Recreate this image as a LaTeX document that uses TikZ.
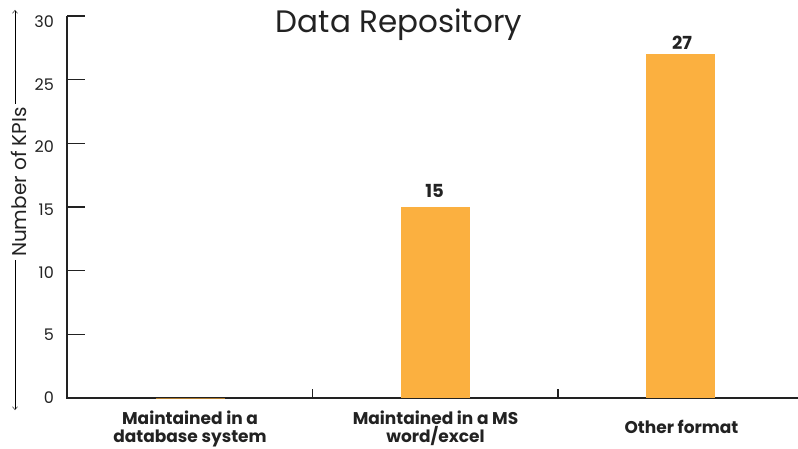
\documentclass[tikz,border=0pt]{standalone}
\usepackage{fontspec}
\setmainfont{Poppins}
\usetikzlibrary{arrows.meta, positioning}

\definecolor{axisgray}{HTML}{222222}
\definecolor{barorange}{HTML}{FBB040}

\begin{document}
\begin{tikzpicture}[
    x=1pt, y=-1pt,
    axis/.style={draw=axisgray, line width=1.3pt},
    tick/.style={draw=axisgray, line width=1.1pt},
    bar/.style={fill=barorange, draw=none},
    ticklabel/.style={anchor=east, inner sep=0pt, font=\fontsize{16}{16}\selectfont},
    catlabel/.style={align=center, inner sep=0pt, font=\fontsize{17}{18}\selectfont\bfseries},
    value/.style={inner sep=0pt, font=\fontsize{18}{18}\selectfont\bfseries},
    arrow/.style={-{Straight Barb[length=3pt, width=5pt]}, thin},
    every node/.style={text=axisgray}
]
\useasboundingbox (0,0) rectangle (798,449);

% Title
\node[font=\fontsize{31}{31}\selectfont] (title) at (399,25) {Data Repository};

% Axes
\coordinate (origin) at (67,398);
\coordinate (ytop) at (67,16);
\coordinate (xend) at (798,398);
\draw[axis] (ytop) -- (origin) -- (xend);

% Y ticks and labels
\foreach \v in {0,5,...,30} {
    \draw[tick] (67,{398-12.733*\v}) -- ++(18,0);
    \node[ticklabel] (tl\v) at (54,{397.5-12.533*\v}) {\v};
}

% Category separators
\foreach \xx in {312.5,558} {
    \draw[tick] (\xx,398) -- ++(0,-9);
}

% Y axis label
\node[rotate=90, inner sep=3pt, font=\fontsize{20}{20}\selectfont] (ylab) at (18.5,182) {Number of KPIs};
\draw[arrow] ([xshift=-3.5pt]ylab.east) -- (15,10);
\draw[arrow] ([xshift=-3.5pt]ylab.west) -- (15,410);

% Bars
\draw[barorange!70!black, line width=1pt] (155.5,398) -- (224.5,398);
\fill[bar] (401,398) rectangle (470,{398-12.733*15});
\fill[bar] (646,398) rectangle (715,{398-12.733*27});

% Values
\node[value] (v2) at (434.5,190.5) {15};
\node[value] (v3) at (682,43) {27};

% Category labels
\node[catlabel] (c1) at (190,428.5) {Maintained in a\\database system};
\node[catlabel] (c2) at (435.5,428.5) {Maintained in a MS\\word/excel};
\node[catlabel] (c3) at (681.5,427) {Other format};

\end{tikzpicture}
\end{document}
